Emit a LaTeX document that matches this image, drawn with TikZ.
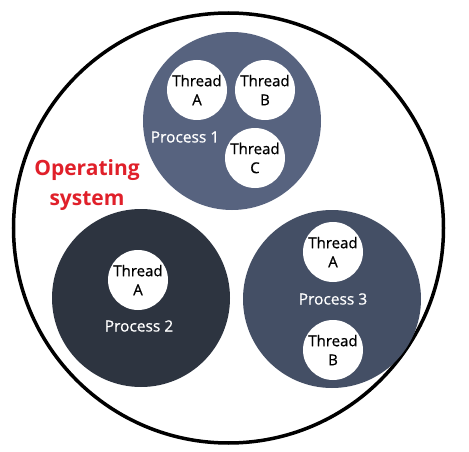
\documentclass[tikz,border=0pt]{standalone}
\usepackage{fontspec}
\setsansfont{Open Sans}
\renewcommand{\familydefault}{\sfdefault}
\newfontfamily\semifont[FakeBold=0.7]{Open Sans}
\definecolor{procA}{HTML}{57637F}
\definecolor{procB}{HTML}{2D3440}
\definecolor{procC}{HTML}{444F65}
\definecolor{osred}{HTML}{E0202A}
\begin{document}
\begin{tikzpicture}[x=1pt, y=-1pt,
    proc/.style={circle, minimum size=178pt, inner sep=0pt},
    thread/.style={circle, fill=white, minimum size=60pt, inner sep=0pt, align=center, font=\semifont\fontsize{15}{19}\selectfont},
    plabel/.style={text=white, font=\semifont\fontsize{15.5}{19}\selectfont}]
    \useasboundingbox (0,0) rectangle (469,452);
    \node[circle, draw, line width=3.5pt, minimum size=430pt, inner sep=0pt] (sys) at (228.5,228) {};
    \node[align=center, text=osred, font=\bfseries\fontsize{21}{30}\selectfont] (ostext) at (87,185) {Operating\\system};
    % process 1
    \node[proc, fill=procA] (p1) at (232,121) {};
    \node[thread] (p1a) at (197,90) {Thread\\A};
    \node[thread] (p1b) at (265,90) {Thread\\B};
    \node[thread] (p1c) at (255,158) {Thread\\C};
    \node[plabel] (p1l) at (185,137) {Process 1};
    % process 2
    \node[proc, fill=procB] (p2) at (141,298) {};
    \node[thread] (p2a) at (138,280) {Thread\\A};
    \node[plabel] (p2l) at (139,326) {Process 2};
    % process 3
    \node[proc, fill=procC] (p3) at (332,299) {};
    \node[thread] (p3a) at (333,252) {Thread\\A};
    \node[thread] (p3b) at (333,350) {Thread\\B};
    \node[plabel] (p3l) at (333,299) {Process 3};
\end{tikzpicture}
\end{document}
